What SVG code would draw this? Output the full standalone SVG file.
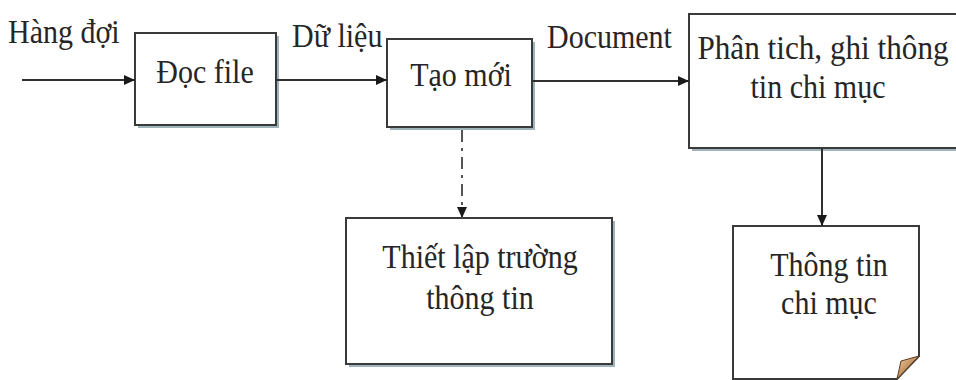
<svg xmlns="http://www.w3.org/2000/svg" width="956" height="380" viewBox="0 0 956 380">
  <defs>
    <style>
      .box { fill: #ffffff; stroke: #3a3a3a; stroke-width: 2; }
      .shadow { fill: #7f9aa3; opacity: 0.75; }
      .lbl { font-family: "Liberation Serif", "Times New Roman", serif; font-size: 30px; fill: #262626; }
      .mid { text-anchor: middle; }
      .conn { fill: none; stroke: #303030; stroke-width: 2; }
      .dash { stroke: #555555; stroke-dasharray: 12 6 3 6; }
    </style>
    <marker id="arrow" markerUnits="userSpaceOnUse" markerWidth="12" markerHeight="10" refX="11" refY="5" orient="auto">
      <path d="M0,0 L11,5 L0,10 Z" fill="#1a1a1a"/>
    </marker>
    <linearGradient id="curl" x1="0" y1="0" x2="1" y2="1">
      <stop offset="0" stop-color="#f6d2a6"/>
      <stop offset="1" stop-color="#8a4a12"/>
    </linearGradient>
  </defs>

  <g id="node-doc-file">
    <rect class="shadow" x="138" y="36" width="141" height="92"/>
    <rect class="box" x="135" y="33" width="141" height="92"/>
    <text class="lbl mid" transform="translate(205,83) scale(1,1.13)">Đọc file</text>
  </g>

  <g id="node-tao-moi">
    <rect class="shadow" x="390" y="42" width="145" height="88"/>
    <rect class="box" x="387" y="39" width="145" height="88"/>
    <text class="lbl mid" transform="translate(461,86) scale(1,1.13)">Tạo mới</text>
  </g>

  <g id="node-phan-tich">
    <rect class="shadow" x="692" y="17" width="280" height="134"/>
    <rect class="box" x="689" y="14" width="280" height="134"/>
    <text class="lbl mid" transform="translate(823,59) scale(1.04,1.13)">Phân tich, ghi thông</text>
    <text class="lbl mid" transform="translate(818,98) scale(1,1.13)">tin chi mục</text>
  </g>

  <g id="node-thiet-lap">
    <rect class="shadow" x="349" y="221" width="266" height="146"/>
    <rect class="box" x="346" y="218" width="266" height="146"/>
    <text class="lbl mid" transform="translate(480,268) scale(1,1.13)">Thiết lập trường</text>
    <text class="lbl mid" transform="translate(480,309) scale(1,1.13)">thông tin</text>
  </g>

  <g id="node-thong-tin-chi-muc">
    <path class="box" d="M733,226 H919 V356 L897,379 H733 Z"/>
    <path d="M897,379 L901,361 L919,356 Z" fill="url(#curl)" stroke="#5a3a20" stroke-width="1"/>
    <text class="lbl mid" transform="translate(829,276) scale(1,1.13)">Thông tin</text>
    <text class="lbl mid" transform="translate(829,314) scale(1,1.13)">chi mục</text>
  </g>

  <g id="connectors">
    <line class="conn" x1="22" y1="80" x2="135" y2="80" marker-end="url(#arrow)"/>
    <line class="conn" x1="276" y1="80" x2="387" y2="80" marker-end="url(#arrow)"/>
    <line class="conn" x1="532" y1="81" x2="689" y2="81" marker-end="url(#arrow)"/>
    <line class="conn dash" x1="462" y1="130" x2="462" y2="218" marker-end="url(#arrow)"/>
    <line class="conn" x1="822" y1="148" x2="822" y2="226" marker-end="url(#arrow)"/>
    <text class="lbl" transform="translate(8,43) scale(1,1.13)">Hàng đợi</text>
    <text class="lbl" transform="translate(292,47) scale(1,1.13)">Dữ liệu</text>
    <text class="lbl" transform="translate(547,48) scale(1,1.13)">Document</text>
  </g>
</svg>
